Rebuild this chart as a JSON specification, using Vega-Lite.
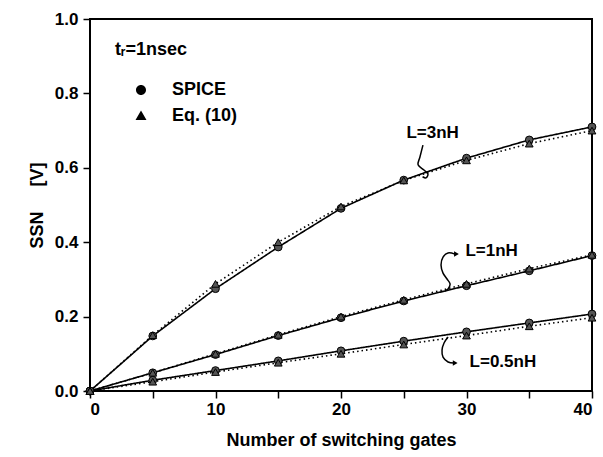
{
  "$schema": "https://vega.github.io/schema/vega-lite/v6.json",
  "width": 502,
  "height": 372,
  "autosize": {"type": "none"},
  "padding": {"left": 90, "top": 19, "right": 11, "bottom": 66},
  "background": "white",
  "config": {
    "view": {"stroke": "black", "strokeWidth": 2},
    "font": "Liberation Sans",
    "axis": {
      "domain": false,
      "grid": false,
      "tickColor": "black",
      "tickWidth": 1.5,
      "tickSize": 7,
      "labelFont": "Liberation Sans",
      "labelFontSize": 17,
      "labelFontWeight": "bold",
      "labelColor": "black",
      "titleFont": "Liberation Sans",
      "titleFontSize": 18,
      "titleFontWeight": "bold",
      "titleColor": "black"
    },
    "legend": {
      "orient": "none",
      "legendX": 25,
      "legendY": 22,
      "titleFont": "Liberation Sans",
      "titleFontSize": 18,
      "titleFontWeight": "bold",
      "titleColor": "black",
      "titlePadding": 20,
      "labelFont": "Liberation Sans",
      "labelFontSize": 18,
      "labelFontWeight": "bold",
      "labelColor": "black",
      "symbolSize": 400,
      "symbolOffset": 15,
      "labelOffset": 20,
      "rowPadding": 6,
      "symbolFillColor": "black",
      "symbolStrokeColor": "black",
      "symbolStrokeWidth": 1.5,
      "symbolOpacity": 1
    }
  },
  "datasets": {
    "curves": [
      {"L": "3nH", "method": "SPICE", "n": 0, "ssn": 0},
      {"L": "3nH", "method": "SPICE", "n": 5, "ssn": 0.148},
      {"L": "3nH", "method": "SPICE", "n": 10, "ssn": 0.275},
      {"L": "3nH", "method": "SPICE", "n": 15, "ssn": 0.387},
      {"L": "3nH", "method": "SPICE", "n": 20, "ssn": 0.491},
      {"L": "3nH", "method": "SPICE", "n": 25, "ssn": 0.567},
      {"L": "3nH", "method": "SPICE", "n": 30, "ssn": 0.626},
      {"L": "3nH", "method": "SPICE", "n": 35, "ssn": 0.675},
      {"L": "3nH", "method": "SPICE", "n": 40, "ssn": 0.71},
      {"L": "3nH", "method": "Eq. (10)", "n": 0, "ssn": 0},
      {"L": "3nH", "method": "Eq. (10)", "n": 5, "ssn": 0.15},
      {"L": "3nH", "method": "Eq. (10)", "n": 10, "ssn": 0.288},
      {"L": "3nH", "method": "Eq. (10)", "n": 15, "ssn": 0.4},
      {"L": "3nH", "method": "Eq. (10)", "n": 20, "ssn": 0.496},
      {"L": "3nH", "method": "Eq. (10)", "n": 25, "ssn": 0.566},
      {"L": "3nH", "method": "Eq. (10)", "n": 30, "ssn": 0.62},
      {"L": "3nH", "method": "Eq. (10)", "n": 35, "ssn": 0.665},
      {"L": "3nH", "method": "Eq. (10)", "n": 40, "ssn": 0.70},
      {"L": "1nH", "method": "SPICE", "n": 0, "ssn": 0},
      {"L": "1nH", "method": "SPICE", "n": 5, "ssn": 0.049},
      {"L": "1nH", "method": "SPICE", "n": 10, "ssn": 0.098},
      {"L": "1nH", "method": "SPICE", "n": 15, "ssn": 0.149},
      {"L": "1nH", "method": "SPICE", "n": 20, "ssn": 0.197},
      {"L": "1nH", "method": "SPICE", "n": 25, "ssn": 0.242},
      {"L": "1nH", "method": "SPICE", "n": 30, "ssn": 0.283},
      {"L": "1nH", "method": "SPICE", "n": 35, "ssn": 0.323},
      {"L": "1nH", "method": "SPICE", "n": 40, "ssn": 0.364},
      {"L": "1nH", "method": "Eq. (10)", "n": 0, "ssn": 0},
      {"L": "1nH", "method": "Eq. (10)", "n": 5, "ssn": 0.049},
      {"L": "1nH", "method": "Eq. (10)", "n": 10, "ssn": 0.1},
      {"L": "1nH", "method": "Eq. (10)", "n": 15, "ssn": 0.151},
      {"L": "1nH", "method": "Eq. (10)", "n": 20, "ssn": 0.2},
      {"L": "1nH", "method": "Eq. (10)", "n": 25, "ssn": 0.245},
      {"L": "1nH", "method": "Eq. (10)", "n": 30, "ssn": 0.288},
      {"L": "1nH", "method": "Eq. (10)", "n": 35, "ssn": 0.329},
      {"L": "1nH", "method": "Eq. (10)", "n": 40, "ssn": 0.366},
      {"L": "0.5nH", "method": "SPICE", "n": 0, "ssn": 0},
      {"L": "0.5nH", "method": "SPICE", "n": 5, "ssn": 0.029},
      {"L": "0.5nH", "method": "SPICE", "n": 10, "ssn": 0.055},
      {"L": "0.5nH", "method": "SPICE", "n": 15, "ssn": 0.081},
      {"L": "0.5nH", "method": "SPICE", "n": 20, "ssn": 0.108},
      {"L": "0.5nH", "method": "SPICE", "n": 25, "ssn": 0.134},
      {"L": "0.5nH", "method": "SPICE", "n": 30, "ssn": 0.159},
      {"L": "0.5nH", "method": "SPICE", "n": 35, "ssn": 0.183},
      {"L": "0.5nH", "method": "SPICE", "n": 40, "ssn": 0.207},
      {"L": "0.5nH", "method": "Eq. (10)", "n": 0, "ssn": 0},
      {"L": "0.5nH", "method": "Eq. (10)", "n": 5, "ssn": 0.025},
      {"L": "0.5nH", "method": "Eq. (10)", "n": 10, "ssn": 0.051},
      {"L": "0.5nH", "method": "Eq. (10)", "n": 15, "ssn": 0.076},
      {"L": "0.5nH", "method": "Eq. (10)", "n": 20, "ssn": 0.1},
      {"L": "0.5nH", "method": "Eq. (10)", "n": 25, "ssn": 0.125},
      {"L": "0.5nH", "method": "Eq. (10)", "n": 30, "ssn": 0.149},
      {"L": "0.5nH", "method": "Eq. (10)", "n": 35, "ssn": 0.174},
      {"L": "0.5nH", "method": "Eq. (10)", "n": 40, "ssn": 0.197}
    ],
    "labels": [
      {"text": "L=3nH", "n": 27.3, "ssn": 0.694},
      {"text": "L=1nH", "n": 32.0, "ssn": 0.376},
      {"text": "L=0.5nH", "n": 32.9, "ssn": 0.078}
    ],
    "arrows": [
      {"arrow": "a3", "i": 0, "n": 26.53, "ssn": 0.661},
      {"arrow": "a3", "i": 1, "n": 26.29, "ssn": 0.629},
      {"arrow": "a3", "i": 2, "n": 26.14, "ssn": 0.608},
      {"arrow": "a3", "i": 3, "n": 26.61, "ssn": 0.594},
      {"arrow": "a3", "i": 4, "n": 26.93, "ssn": 0.583},
      {"arrow": "a3", "i": 5, "n": 26.77, "ssn": 0.573},
      {"arrow": "a3", "i": 6, "n": 26.5, "ssn": 0.576},
      {"arrow": "a1", "i": 0, "n": 29.08, "ssn": 0.368},
      {"arrow": "a1", "i": 1, "n": 28.53, "ssn": 0.371},
      {"arrow": "a1", "i": 2, "n": 28.13, "ssn": 0.36},
      {"arrow": "a1", "i": 3, "n": 27.97, "ssn": 0.339},
      {"arrow": "a1", "i": 4, "n": 28.13, "ssn": 0.317},
      {"arrow": "a1", "i": 5, "n": 28.45, "ssn": 0.301},
      {"arrow": "a1", "i": 6, "n": 28.69, "ssn": 0.288},
      {"arrow": "a1", "i": 7, "n": 28.53, "ssn": 0.274},
      {"arrow": "a1", "i": 8, "n": 28.29, "ssn": 0.269},
      {"arrow": "a05", "i": 0, "n": 28.53, "ssn": 0.145},
      {"arrow": "a05", "i": 1, "n": 28.21, "ssn": 0.129},
      {"arrow": "a05", "i": 2, "n": 28.05, "ssn": 0.11},
      {"arrow": "a05", "i": 3, "n": 28.13, "ssn": 0.091},
      {"arrow": "a05", "i": 4, "n": 28.53, "ssn": 0.078},
      {"arrow": "a05", "i": 5, "n": 29.0, "ssn": 0.075}
    ],
    "heads": [
      {"arrow": "a1", "n": 29.2, "ssn": 0.368},
      {"arrow": "a05", "n": 29.1, "ssn": 0.075}
    ]
  },
  "layer": [
    {
      "data": {"name": "curves"},
      "mark": {"type": "line", "color": "black", "strokeWidth": 1.6, "clip": true},
      "encoding": {
        "x": {
          "field": "n", "type": "quantitative",
          "scale": {"domain": [0, 40], "nice": false, "zero": false},
          "axis": {
            "title": "Number of switching gates",
            "values": [0, 5, 10, 15, 20, 25, 30, 35, 40],
            "labelExpr": "datum.value % 10 == 0 ? format(datum.value, 'd') : ''",
            "labelPadding": 3,
            "titlePadding": 14
          }
        },
        "y": {
          "field": "ssn", "type": "quantitative",
          "scale": {"domain": [0, 1], "nice": false},
          "axis": {
            "title": "SSN\u00a0\u00a0\u00a0\u00a0\u00a0[V]",
            "values": [0, 0.1, 0.2, 0.3, 0.4, 0.5, 0.6, 0.7, 0.8, 0.9, 1.0],
            "labelExpr": "round(datum.value * 10) % 2 == 0 ? format(datum.value, '.1f') : ''",
            "labelPadding": 5,
            "titlePadding": 8
          }
        },
        "detail": {"field": "L"},
        "strokeDash": {
          "field": "method", "type": "nominal",
          "scale": {"domain": ["SPICE", "Eq. (10)"], "range": [[1, 0], [1.5, 3]]},
          "legend": {"title": "t\u1d63=1nsec"}
        }
      }
    },
    {
      "data": {"name": "curves"},
      "mark": {"type": "point", "filled": true, "color": "black", "opacity": 0},
      "encoding": {
        "x": {"field": "n", "type": "quantitative"},
        "y": {"field": "ssn", "type": "quantitative"},
        "shape": {
          "field": "method", "type": "nominal",
          "scale": {
            "domain": ["SPICE", "Eq. (10)"],
            "range": [
              "M-2.25,0H2.25M-0.5,0A0.5,0.5,0,1,0,0.5,0A0.5,0.5,0,1,0,-0.5,0Z",
              "M-2.25,0H2.25M0,-0.55L0.55,0.4L-0.55,0.4Z"
            ]
          },
          "legend": {"title": "t\u1d63=1nsec"}
        }
      }
    },
    {
      "data": {"name": "curves"},
      "transform": [{"filter": "datum.method === 'SPICE'"}],
      "mark": {"type": "point", "shape": "circle", "filled": true, "fill": "#555555", "stroke": "black", "strokeWidth": 1, "opacity": 1, "size": 60},
      "encoding": {
        "x": {"field": "n", "type": "quantitative"},
        "y": {"field": "ssn", "type": "quantitative"}
      }
    },
    {
      "data": {"name": "curves"},
      "transform": [{"filter": "datum.method === 'Eq. (10)'"}],
      "mark": {"type": "point", "shape": "triangle-up", "filled": true, "fill": "#555555", "stroke": "black", "strokeWidth": 1, "opacity": 1, "size": 60},
      "encoding": {
        "x": {"field": "n", "type": "quantitative"},
        "y": {"field": "ssn", "type": "quantitative"}
      }
    },
    {
      "data": {"name": "arrows"},
      "mark": {"type": "line", "color": "black", "strokeWidth": 1.5, "interpolate": "catmull-rom"},
      "encoding": {
        "x": {"field": "n", "type": "quantitative"},
        "y": {"field": "ssn", "type": "quantitative"},
        "detail": {"field": "arrow"},
        "order": {"field": "i"}
      }
    },
    {
      "data": {"name": "heads"},
      "mark": {"type": "point", "shape": "triangle-right", "filled": true, "color": "black", "opacity": 1, "size": 30},
      "encoding": {
        "x": {"field": "n", "type": "quantitative"},
        "y": {"field": "ssn", "type": "quantitative"}
      }
    },
    {
      "data": {"name": "labels"},
      "mark": {"type": "text", "font": "Liberation Sans", "fontSize": 17, "fontWeight": "bold", "color": "black", "align": "center", "baseline": "middle"},
      "encoding": {
        "x": {"field": "n", "type": "quantitative"},
        "y": {"field": "ssn", "type": "quantitative"},
        "text": {"field": "text"}
      }
    }
  ]
}
